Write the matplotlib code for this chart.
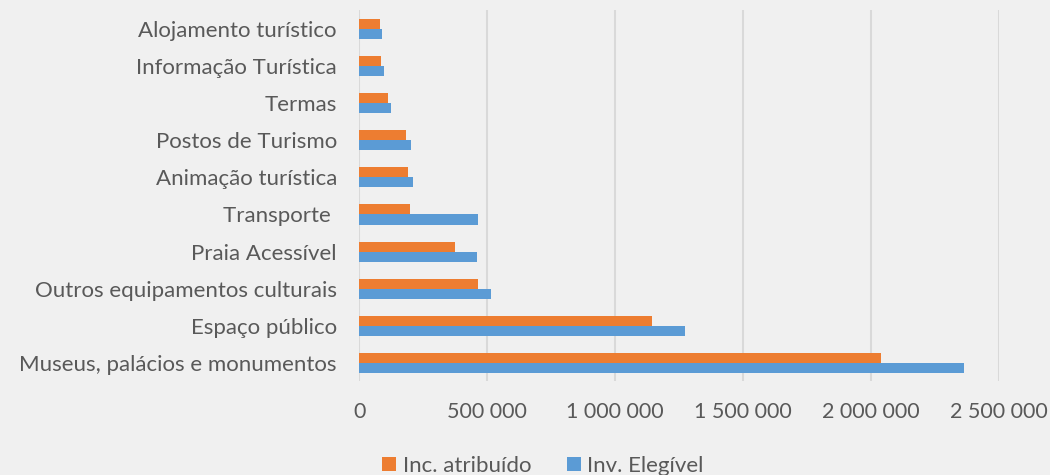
import numpy as np
import matplotlib.pyplot as plt

# categories listed bottom to top
categories = ["Museus, palácios e monumentos", "Espaço público",
              "Outros equipamentos culturais", "Praia Acessível", "Transporte ",
              "Animação turística", "Postos de Turismo", "Termas",
              "Informação Turística", "Alojamento turístico"]
inc_atribuido = [2039000, 1147000, 464000, 376000, 200000,
                 193000, 182000, 112000, 86000, 82000]
inv_elegivel = [2364000, 1276000, 516000, 461000, 466000,
                212000, 202000, 124000, 96000, 91000]
xticks = [0, 500000, 1000000, 1500000, 2000000, 2500000]

orange = '#ED7D31'
blue = '#5B9BD5'
grey_text = '#595959'
bg = '#F0F0F0'

plt.rcParams['font.family'] = ['Lato', 'DejaVu Sans']

fig = plt.figure(figsize=(10.5, 4.75), dpi=100, facecolor=bg)
ax = fig.add_axes([0.342, 0.197, 0.609, 0.781], facecolor=bg)

y = np.arange(len(categories))
h = 0.27
ax.barh(y - h / 2, inv_elegivel, height=h, color=blue, label='Inv. Elegível',
        zorder=3)
ax.barh(y + h / 2, inc_atribuido, height=h, color=orange,
        label='Inc. atribuído', zorder=3)

ax.set_xlim(0, 2500000)
ax.set_ylim(-0.5, len(categories) - 0.5)
ax.set_xticks(xticks)
ax.set_xticklabels([f"{v:,}".replace(',', ' ') for v in xticks])
ax.set_yticks(y)
ax.set_yticklabels(categories)
ax.tick_params(axis='x', length=0, colors=grey_text, labelsize=15.5, pad=15)
ax.tick_params(axis='y', length=0, colors=grey_text, labelsize=16, pad=16)

ax.grid(axis='x', color='#D9D9D9', linewidth=1.5, zorder=0)
for s in ax.spines.values():
    s.set_visible(False)

handles, labels = ax.get_legend_handles_labels()
leg = fig.legend(handles[::-1], labels[::-1], loc='center',
                 bbox_to_anchor=(0.517, 0.019), ncol=2, frameon=False,
                 fontsize=16, handlelength=0.63, handleheight=0.63,
                 handletextpad=0.3, columnspacing=1.6, borderpad=0)
for t in leg.get_texts():
    t.set_color(grey_text)

fig.savefig('out.png', dpi=100, facecolor=bg)
